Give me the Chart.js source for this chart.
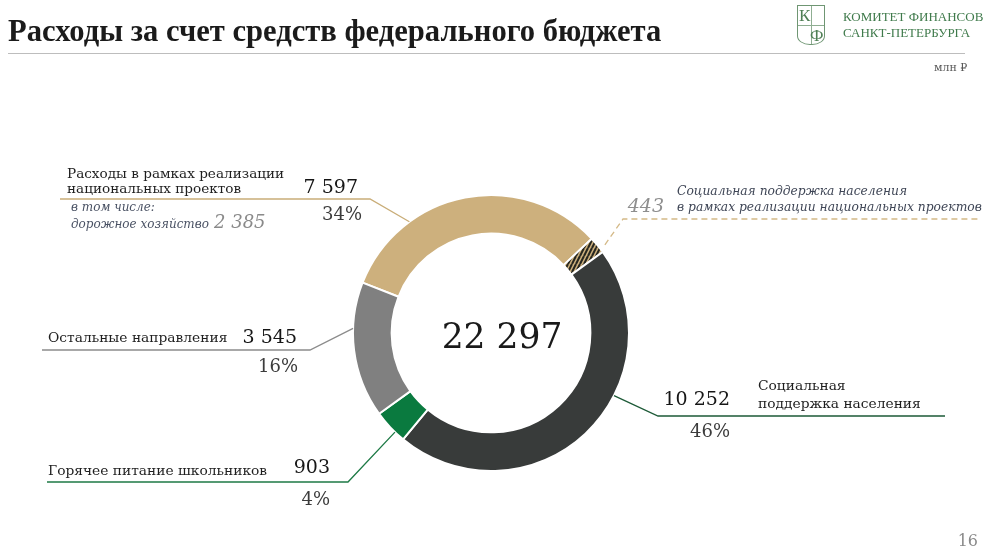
<!DOCTYPE html>
<html><head><meta charset="utf-8">
<script src="https://cdn.jsdelivr.net/npm/chart.js@4.4.1/dist/chart.umd.min.js"></script>
<style>
html,body{margin:0;padding:0;background:#fff;}
#wrap{position:relative;width:990px;height:557px;overflow:hidden;background:#fff;}
#c{position:absolute;left:0;top:0;}
.t{position:absolute;white-space:nowrap;line-height:1;}
#rule{position:absolute;left:8px;top:53px;width:957px;height:1px;background:#bdbdbd;}
#shield{position:absolute;left:797px;top:5px;width:26px;height:38px;border:1.2px solid #6f9673;border-radius:0 0 13px 13px/0 0 9px 9px;}
#shield .v{position:absolute;left:13px;top:0;width:1px;height:100%;background:#8fae92;}
#shield .h{position:absolute;left:0;top:19px;width:100%;height:1px;background:#8fae92;}
</style></head><body>
<div id="wrap"><canvas id="c" width="990" height="557"></canvas>
<div id="rule"></div>
<div id="shield"><div class="v"></div><div class="h"></div></div>
</div>
<script>
// ---- data ----
const categories = [
  'Расходы в рамках реализации национальных проектов',
  'Социальная поддержка населения в рамках реализации национальных проектов',
  'Социальная поддержка населения',
  'Горячее питание школьников',
  'Остальные направления'
];
// arc sizes: first arc is national projects (7 597) excluding the 443 shown separately
const arcValues = [7154, 443, 10252, 903, 3545];
const labelValues = ['7 597', '443', '10 252', '903', '3 545'];
const percentLabels = ['34%', '', '46%', '4%', '16%'];
const subLabelTitle = 'в том числе:';
const subLabelName = 'дорожное хозяйство';
const subLabelValue = '2 385';
const titleText = 'Расходы за счет средств федерального бюджета';
const unitText = 'млн ₽';
const pageNumber = '16';

// ---- styles ----
const TAN = '#cdb07d', DARK = '#383b3a', GREEN = '#0a7a3f', GRAY = '#808080';
function hatch(){
  const p = document.createElement('canvas'); p.width = 4; p.height = 8;
  const g = p.getContext('2d');
  g.fillStyle = TAN; g.fillRect(0,0,4,8);
  g.strokeStyle = '#26261f'; g.lineWidth = 2.1; g.beginPath();
  for (let k=-1;k<=1;k++){ g.moveTo(k*4,8); g.lineTo(k*4+4,0); }
  g.stroke();
  return g.createPattern(p,'repeat');
}

const leaders = [
  {f:0.28, ext:0, elbow:[370,199], end:[60,199], color:'#c9ad78', dash:[]},
  {f:0.75, ext:6, elbow:[623,219], end:[980,219], color:'#d4b987', dash:[6,4]},
  {f:0.38, ext:0, elbow:[658,416], end:[945,416], color:'#1d5a37', dash:[]},
  {f:0.31, ext:0, elbow:[348,482], end:[47,482], color:'#1e7a46', dash:[]},
  {f:0.66, ext:0, elbow:[310,350], end:[42,350], color:'#8c8c8c', dash:[]}
];

const leaderPlugin = {
  id:'leaders',
  afterDraw(chart){
    const ctx = chart.ctx;
    const arcs = chart.getDatasetMeta(0).data;
    arcs.forEach((arc,i)=>{
      const L = leaders[i]; if(!L) return;
      const p = arc.getProps(['x','y','startAngle','endAngle','outerRadius'], true);
      const a = p.startAngle + L.f*(p.endAngle-p.startAngle);
      const r = p.outerRadius + L.ext;
      ctx.save();
      ctx.strokeStyle = L.color; ctx.lineWidth = 1.3; ctx.setLineDash(L.dash);
      ctx.beginPath();
      ctx.moveTo(p.x + r*Math.cos(a), p.y + r*Math.sin(a));
      ctx.lineTo(L.elbow[0], L.elbow[1]);
      ctx.lineTo(L.end[0], L.end[1]);
      ctx.stroke();
      ctx.restore();
    });
  }
};

const chart = new Chart(document.getElementById('c'), {
  type:'doughnut',
  data:{ labels:categories, datasets:[{
    data:arcValues,
    backgroundColor:[TAN, hatch(), DARK, GREEN, GRAY],
    borderColor:'#ffffff', borderWidth:2
  }]},
  options:{
    responsive:false, animation:false, events:[],
    rotation:-68.6, cutout:'72%',
    layout:{padding:{left:352,right:360,top:194,bottom:85}},
    plugins:{legend:{display:false}, tooltip:{enabled:false}}
  },
  plugins:[leaderPlugin]
});

// ---- text ----
const wrap = document.getElementById('wrap');
const SERIF = '"DejaVu Serif", serif';
const TIMES = '"Liberation Serif", serif';
function put(text, x, base, size, o={}){
  const d = document.createElement('div');
  d.className = 't'; d.textContent = text;
  const fam = o.family || SERIF;
  d.style.fontFamily = fam;
  d.style.fontSize = size + 'px';
  d.style.color = o.color || '#1e1e1e';
  if (o.italic) d.style.fontStyle = 'italic';
  if (o.bold) d.style.fontWeight = 'bold';
  const asc = fam === TIMES ? 0.8375 : 0.846;
  d.style.top = (base - asc*size) + 'px';
  if (o.right) d.style.right = (990 - x) + 'px'; else d.style.left = x + 'px';
  if (o.center) { d.style.left = x + 'px'; d.style.transform = 'translateX(-50%)'; }
  wrap.appendChild(d);
  return d;
}

put(titleText, 8, 42, 30.6, {family:TIMES, bold:true, color:'#1b1b1b'});
put('К', 799, 21, 17, {family:TIMES, color:'#4f7f55'});
put('Ф', 810, 41, 17, {family:TIMES, color:'#4f7f55'});
put('КОМИТЕТ ФИНАНСОВ', 843, 21, 13, {family:TIMES, color:'#3f7a4b'});
put('САНКТ-ПЕТЕРБУРГА', 843, 37, 13, {family:TIMES, color:'#3f7a4b'});
put(unitText, 934, 71, 11, {color:'#555'});
put(pageNumber, 978, 547, 16, {right:true, color:'#8a8a8a'});

// national projects
put('Расходы в рамках реализации', 67, 179, 13.6);
put('национальных проектов', 67, 194, 13.6);
put(labelValues[0], 358, 193, 19, {right:true, color:'#161616'});
put(percentLabels[0], 362, 220, 18, {right:true, color:'#3c3c3c'});
put(subLabelTitle, 71, 211, 12, {italic:true, color:'#4a5264'});
put(subLabelName, 71, 228, 12, {italic:true, color:'#4a5264'});
put(subLabelValue, 214, 228, 18, {italic:true, color:'#8a8a8a'});

// social support within projects
put(labelValues[1], 664, 212, 19, {right:true, italic:true, color:'#8e8e8e'});
put('Социальная поддержка населения', 677, 195, 12.3, {italic:true, color:'#3f4656'});
put('в рамках реализации национальных проектов', 677, 211, 12.3, {italic:true, color:'#3f4656'});

// social support
put(labelValues[2], 730, 405, 19, {right:true, color:'#161616'});
put('Социальная', 758, 391, 13.8);
put('поддержка населения', 758, 409, 13.8);
put(percentLabels[2], 730, 437, 18, {right:true, color:'#3c3c3c'});

// school meals
put(categories[3], 48, 476, 13.8);
put(labelValues[3], 330, 473, 19, {right:true, color:'#161616'});
put(percentLabels[3], 330, 505, 18, {right:true, color:'#3c3c3c'});

// other
put(categories[4], 48, 343, 13.8);
put(labelValues[4], 297, 343, 19, {right:true, color:'#161616'});
put(percentLabels[4], 298, 372, 18, {right:true, color:'#3c3c3c'});

// center total
const total = arcValues.reduce((s,v)=>s+v,0);
const totalTxt = String(total).replace(/\B(?=(\d{3})+(?!\d))/g,' ');
const m0 = chart.getDatasetMeta(0).data[0];
put(totalTxt, m0.x + 11, m0.y + 15, 34.5, {center:true, color:'#1a1a1a'});
</script>
</body></html>
